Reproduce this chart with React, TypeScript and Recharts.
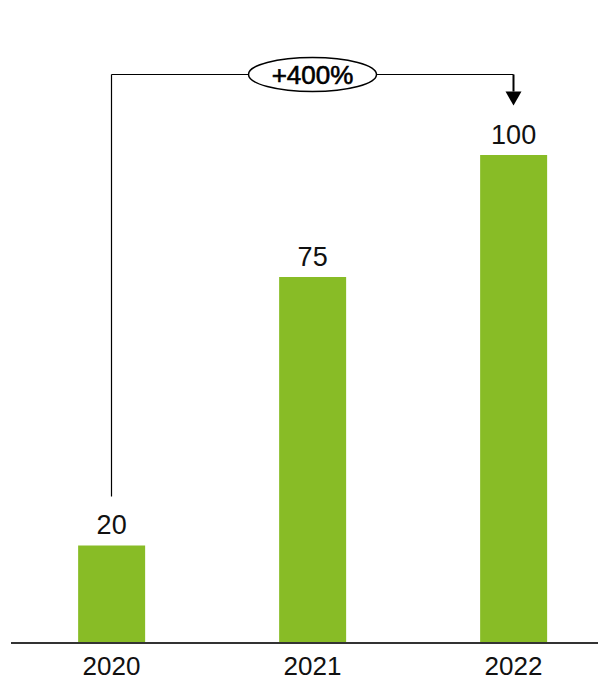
import { BarChart, Bar, XAxis, YAxis, LabelList, ReferenceLine, ReferenceDot } from 'recharts';

const years = ['2020', '2021', '2022'];
const values = [20, 75, 100];

const data = years.map((year, i) => ({ year, value: values[i] }));

const FONT = '"Liberation Sans", Arial, sans-serif';
const GREEN = '#88bc26';

// growth between first and last year
const growth = Math.round(((values[values.length - 1] - values[0]) / values[0]) * 100);

// height (in value units) of the bracket above the bars
const bracketY = 116.5;
const bracketStart = 30;
const arrowStart = 113;

const Bubble = (props: any) => {
  const { cx, cy } = props;
  return (
    <g>
      <ellipse cx={cx} cy={cy} rx={64} ry={17} fill="#fff" stroke="#000" strokeWidth={1.5} />
      <text
        x={cx}
        y={cy}
        dy="0.36em"
        textAnchor="middle"
        fontFamily={FONT}
        fontSize={26}
        fill="#000"
        stroke="#000"
        strokeWidth={0.6}
      >
        {`+${growth}%`}
      </text>
    </g>
  );
};

const ArrowHead = (props: any) => {
  const { cx, cy } = props;
  return <path d={`M${cx - 8},${cy} L${cx + 8},${cy} L${cx},${cy + 14} Z`} fill="#000" />;
};

export default function App() {
  return (
    <div style={{ width: 598, overflow: 'hidden' }}>
      <BarChart
        width={610}
        height={676}
        data={data}
        margin={{ top: 147, right: 4, left: 3, bottom: 0 }}
        barCategoryGap="33.4%"
      >
        <XAxis
          dataKey="year"
          height={41}
          tickLine={false}
          tickSize={0}
          tickMargin={14}
          axisLine={{ stroke: '#333', strokeWidth: 2 }}
          tick={{ fill: '#111', fontSize: 26, fontFamily: FONT }}
        />
        <YAxis hide domain={[0, 100]} />
        <Bar dataKey="value" fill={GREEN} isAnimationActive={false}>
          <LabelList
            dataKey="value"
            position="top"
            offset={11}
            fill="#111"
            fontSize={27}
            fontFamily={FONT}
          />
        </Bar>
        <ReferenceLine
          segment={[
            { x: years[0], y: bracketStart },
            { x: years[0], y: bracketY },
          ]}
          stroke="#000"
          strokeWidth={1.2}
          ifOverflow="visible"
        />
        <ReferenceLine
          segment={[
            { x: years[0], y: bracketY },
            { x: years[2], y: bracketY },
          ]}
          stroke="#000"
          strokeWidth={1.2}
          ifOverflow="visible"
        />
        <ReferenceLine
          segment={[
            { x: years[2], y: bracketY },
            { x: years[2], y: arrowStart },
          ]}
          stroke="#000"
          strokeWidth={2}
          ifOverflow="visible"
        />
        <ReferenceDot x={years[2]} y={arrowStart} ifOverflow="visible" shape={ArrowHead} />
        <ReferenceDot x={years[1]} y={bracketY} ifOverflow="visible" shape={Bubble} />
      </BarChart>
    </div>
  );
}
